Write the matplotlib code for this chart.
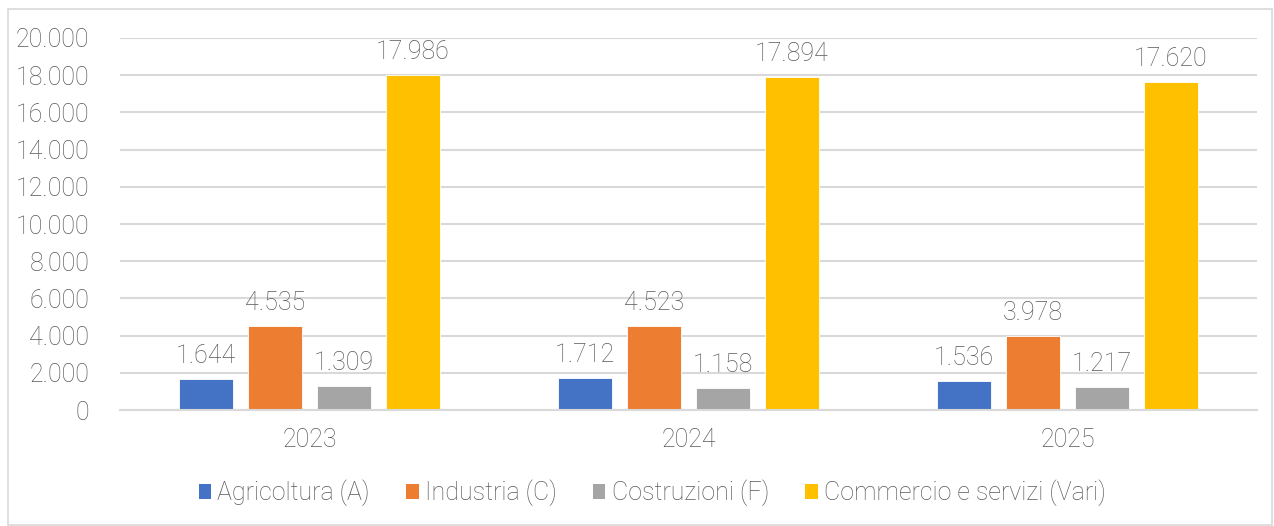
import numpy as np
import matplotlib
matplotlib.use('Agg')
import matplotlib.pyplot as plt
from matplotlib.patches import Patch, Rectangle
from matplotlib.ticker import FuncFormatter

### Data
years = ['2023', '2024', '2025']
series = ['Agricoltura (A)', 'Industria (C)', 'Costruzioni (F)',
          'Commercio e servizi (Vari)']
agricoltura = [1644, 1712, 1536]
industria = [4535, 4523, 3978]
costruzioni = [1309, 1158, 1217]
commercio = [17986, 17894, 17620]
colors = ['#4472C4', '#ED7D31', '#A5A5A5', '#FFC000']

txtcol = '#595959'
fs = 18
plt.rcParams['font.family'] = ['Roboto', 'DejaVu Sans']
plt.rcParams['font.weight'] = 'light'

fig = plt.figure(figsize=(12.74, 5.26), dpi=100)
ax = fig.add_axes([120/1274, 1-410/526, (1257-120)/1274, (410-38)/526])

### Outer border like the Excel chart area
fig.patches.append(Rectangle((8/1274, 1/526), 1264/1274, 516/526,
                             transform=fig.transFigure, fill=False,
                             edgecolor='#D9D9D9', linewidth=1.2))

x = np.arange(len(years))
width = 54/379
step = 69/379
allvals = [agricoltura, industria, costruzioni, commercio]
for i, vals in enumerate(allvals):
    pos = x + (i-1.5)*step
    ax.bar(pos, vals, width=width, color=colors[i], zorder=2,
           edgecolor='white', linewidth=0.6)
    for px, v in zip(pos, vals):
        ax.annotate('{:,}'.format(v).replace(',', '.'), (px, v),
                    xytext=(0, 8), textcoords='offset points',
                    ha='center', va='bottom', fontsize=fs, color=txtcol,
                    fontweight='light')

ax.set_xlim(-0.5, 2.5)
ax.set_ylim(0, 20000)
ax.set_yticks(np.arange(0, 20001, 2000))
ax.yaxis.set_major_formatter(FuncFormatter(
    lambda v, p: '{:,.0f}'.format(v).replace(',', '.')))
ax.set_xticks(x)
ax.set_xticklabels(years)
ax.tick_params(axis='both', length=0, labelsize=fs, colors=txtcol)
ax.tick_params(axis='y', pad=22)
ax.tick_params(axis='x', pad=13)
for s in ['top', 'right', 'left']:
    ax.spines[s].set_visible(False)
ax.spines['bottom'].set_color('#D9D9D9')
ax.spines['bottom'].set_linewidth(1.5)
ax.yaxis.grid(True, color='#D9D9D9', linewidth=1.5, zorder=0)
ax.set_axisbelow(True)

handles = [Patch(facecolor=c) for c in colors]
le = fig.legend(handles, series, ncol=4, loc='center',
                bbox_to_anchor=(0.512, 1-493/526), frameon=False,
                fontsize=fs, handlelength=0.5, handleheight=0.5,
                handletextpad=0.25, columnspacing=1.45)
for t in le.get_texts():
    t.set_color(txtcol)

plt.savefig('out.png', dpi=100)
